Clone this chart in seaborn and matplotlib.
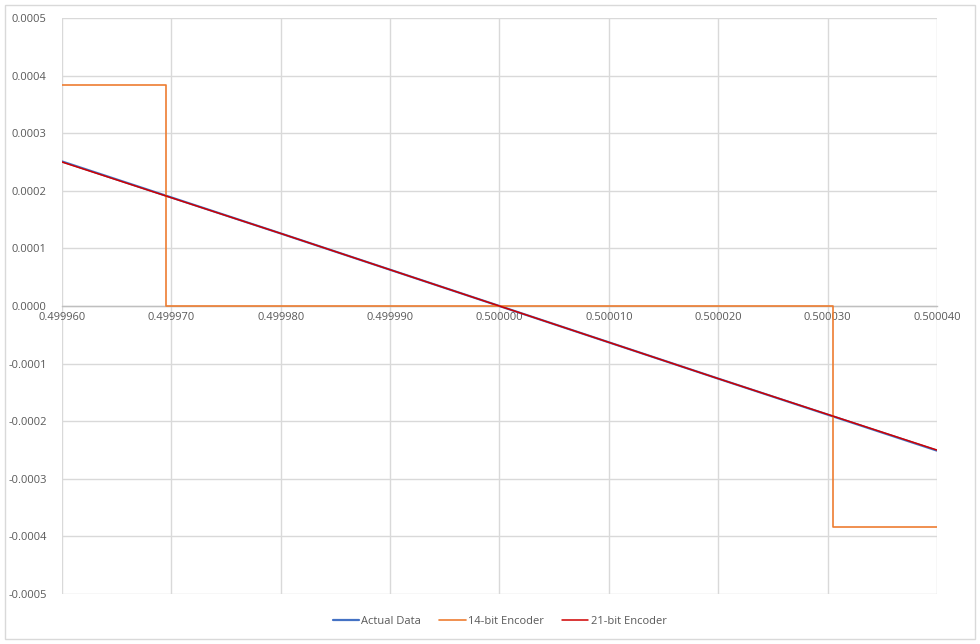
import numpy as np
import pandas as pd
import matplotlib.pyplot as plt
import seaborn as sns
from matplotlib.patches import Rectangle
from matplotlib.ticker import FormatStrFormatter

# angle position vs error
actual_x = [0.499960, 0.499980, 0.500000, 0.500020, 0.500040]
actual_y = [0.000251, 0.000126, 0.0, -0.000126, -0.000251]

enc14_x = [0.499960, 0.4999695, 0.5000305, 0.500040]
enc14_y = [0.000383, 0.0, -0.000383, -0.000383]

enc21_x = [0.499960, 0.499980, 0.500000, 0.500020, 0.500040]
enc21_y = [0.000250, 0.000126, 0.0, -0.000126, -0.000250]

x_ticks = [0.49996, 0.49997, 0.49998, 0.49999, 0.50000, 0.50001, 0.50002, 0.50003, 0.50004]
y_ticks = [-0.0005, -0.0004, -0.0003, -0.0002, -0.0001, 0.0, 0.0001, 0.0002, 0.0003, 0.0004, 0.0005]

sns.set_style("white")
plt.rcParams['font.family'] = ['Open Sans', 'DejaVu Sans']

fig = plt.figure(figsize=(9.8, 6.44), dpi=100)
ax = fig.add_axes([0.0633, 0.0776, 0.8927, 0.8944])

sns.lineplot(x=actual_x, y=actual_y, ax=ax, color='#4472C4', linewidth=1.6, label='Actual Data', zorder=3)
sns.lineplot(x=enc14_x, y=enc14_y, ax=ax, color='#ED7D31', linewidth=1.2, drawstyle='steps-post',
             label='14-bit Encoder', zorder=3)
sns.lineplot(x=enc21_x, y=enc21_y, ax=ax, color='#D00000', linewidth=1.1, label='21-bit Encoder', zorder=4)

ax.set_xlim(0.49996, 0.50004)
ax.set_ylim(-0.0005, 0.0005)
ax.set_xticks(x_ticks)
ax.set_yticks(y_ticks)
ax.xaxis.set_major_formatter(FormatStrFormatter('%.6f'))
ax.yaxis.set_major_formatter(FormatStrFormatter('%.4f'))
ax.grid(True, color='#d9d9d9', linewidth=1)
ax.tick_params(length=0, labelsize=8, colors='#595959')
ax.tick_params(axis='y', pad=11)
ax.tick_params(axis='x', pad=4)

for s in ['top', 'right', 'left']:
    ax.spines[s].set_visible(False)
ax.spines['bottom'].set_position(('data', 0))
ax.spines['bottom'].set_color('#bfbfbf')
ax.spines['bottom'].set_linewidth(1)
ax.spines['bottom'].set_zorder(1)
ax.set_xlabel('')
ax.set_ylabel('')

ax.legend(loc='upper center', bbox_to_anchor=(0.5, -0.02), ncol=3, frameon=False,
          fontsize=8, labelcolor='#595959', handlelength=2.4, columnspacing=1.6, handletextpad=0.2)

fig.patches.append(Rectangle((0.005, 0.008), 0.99, 0.984, transform=fig.transFigure,
                             fill=False, edgecolor='#d9d9d9', linewidth=1))

plt.savefig('out.png', dpi=100)
